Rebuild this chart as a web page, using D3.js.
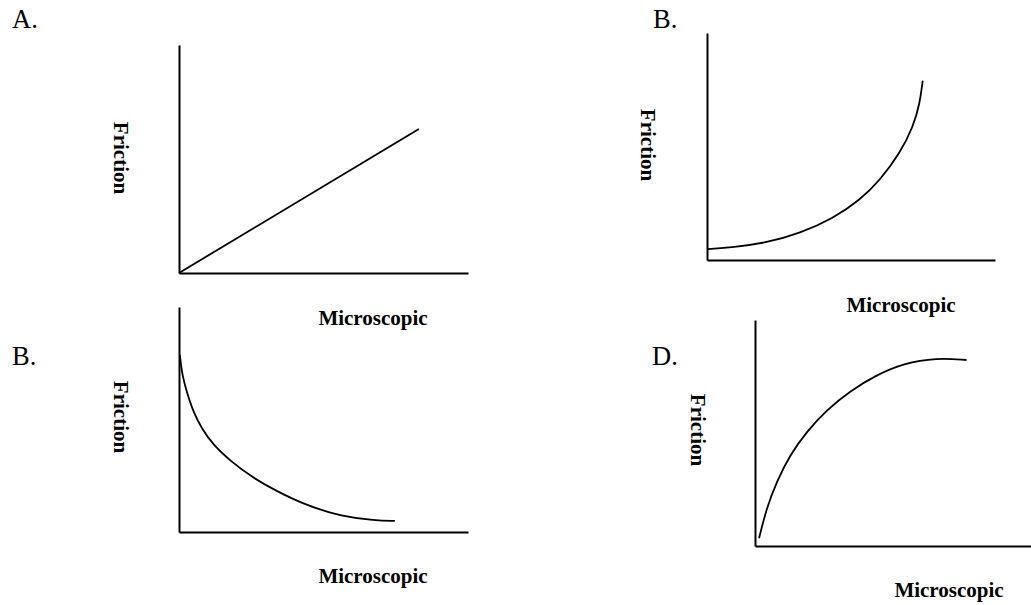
<!DOCTYPE html>
<html>
<head>
<meta charset="utf-8">
<script src="https://cdn.jsdelivr.net/npm/d3@7/dist/d3.min.js"></script>
<style>
  html, body { margin: 0; padding: 0; background: #fff; }
  svg { display: block; }
  text { font-family: "Liberation Serif", "Times New Roman", serif; fill: #000; }
</style>
</head>
<body>
<script>
// ---- Data ----
const panelLabels = ["A.", "B.", "B.", "D."];
const yAxisTitle = "Friction";
const xAxisTitle = "Microscopic";

// curve values in abstract units (x: 0-10, y: 0-10)
const curveA = [[0, 0], [8.3, 6.32]];
const curveB = [[0, 0.48], [0.91, 0.56], [2.07, 0.76], [3.23, 1.17], [4.39, 1.84],
                [5.31, 2.64], [6.01, 3.52], [6.7, 4.70], [7.16, 5.87], [7.39, 6.90], [7.49, 7.90]];
const curveC = [[0.03, 7.87], [0.11, 6.97], [0.27, 6.22], [0.49, 5.35], [0.78, 4.61],
                [1.18, 3.87], [1.81, 3.12], [2.55, 2.42], [3.32, 1.85], [4.46, 1.15],
                [5.62, 0.70], [6.78, 0.51], [7.47, 0.49]];
const curveD = [[0.14, 0.34], [0.40, 1.67], [0.75, 2.85], [1.21, 4.03], [1.79, 5.06],
                [2.48, 6.02], [3.29, 6.86], [4.21, 7.57], [5.13, 8.08], [6.28, 8.33], [7.32, 8.23]];
const curves = [curveA, curveB, curveC, curveD];
const xDomain = [0, 10];
const yDomain = [0, 10];

// ---- Layout ----
const W = 1031, H = 605;
const layout = [
  { x0: 179, x1: 468,  y0: 273, y1: 45,  label: [12, 28],  fric: [121, 158], micro: [373, 325] },
  { x0: 707, x1: 995,  y0: 260, y1: 33,  label: [653, 28], fric: [648, 145], micro: [901, 312] },
  { x0: 179, x1: 468,  y0: 532, y1: 307, label: [12, 365], fric: [121, 417], micro: [373, 583] },
  { x0: 755, x1: 1044, y0: 546, y1: 320, label: [652, 365], fric: [698, 430], micro: [949, 597] }
];

const svg = d3.select("body").append("svg")
  .attr("width", W).attr("height", H)
  .attr("viewBox", `0 0 ${W} ${H}`);

layout.forEach((p, i) => {
  const x = d3.scaleLinear().domain(xDomain).range([p.x0, p.x1]);
  const y = d3.scaleLinear().domain(yDomain).range([p.y0, p.y1]);
  const g = svg.append("g");

  // axes (no ticks)
  const xAxis = g.append("g").attr("transform", `translate(0,${p.y0})`)
    .call(d3.axisBottom(x).ticks(0).tickSizeOuter(0));
  const yAxis = g.append("g").attr("transform", `translate(${p.x0},0)`)
    .call(d3.axisLeft(y).ticks(0).tickSizeOuter(0));
  [xAxis, yAxis].forEach(a => {
    a.select(".domain").attr("stroke", "#000").attr("stroke-width", 2);
    a.selectAll("text").remove();
  });

  // curve
  const line = d3.line()
    .x(d => x(d[0])).y(d => y(d[1]))
    .curve(curves[i].length > 2 ? d3.curveBasis : d3.curveLinear);
  g.append("path").datum(curves[i])
    .attr("d", line)
    .attr("fill", "none")
    .attr("stroke", "#000")
    .attr("stroke-width", 1.8);

  // panel label
  g.append("text")
    .attr("x", p.label[0]).attr("y", p.label[1])
    .attr("font-size", 26.5)
    .text(panelLabels[i]);

  // y title (rotated)
  g.append("text")
    .attr("transform", `translate(${p.fric[0]},${p.fric[1]}) rotate(90)`)
    .attr("text-anchor", "middle")
    .attr("dy", "0.33em")
    .attr("font-size", 21)
    .attr("font-weight", "bold")
    .text(yAxisTitle);

  // x title
  g.append("text")
    .attr("x", p.micro[0]).attr("y", p.micro[1])
    .attr("text-anchor", "middle")
    .attr("font-size", 21)
    .attr("font-weight", "bold")
    .text(xAxisTitle);
});
</script>
</body>
</html>
